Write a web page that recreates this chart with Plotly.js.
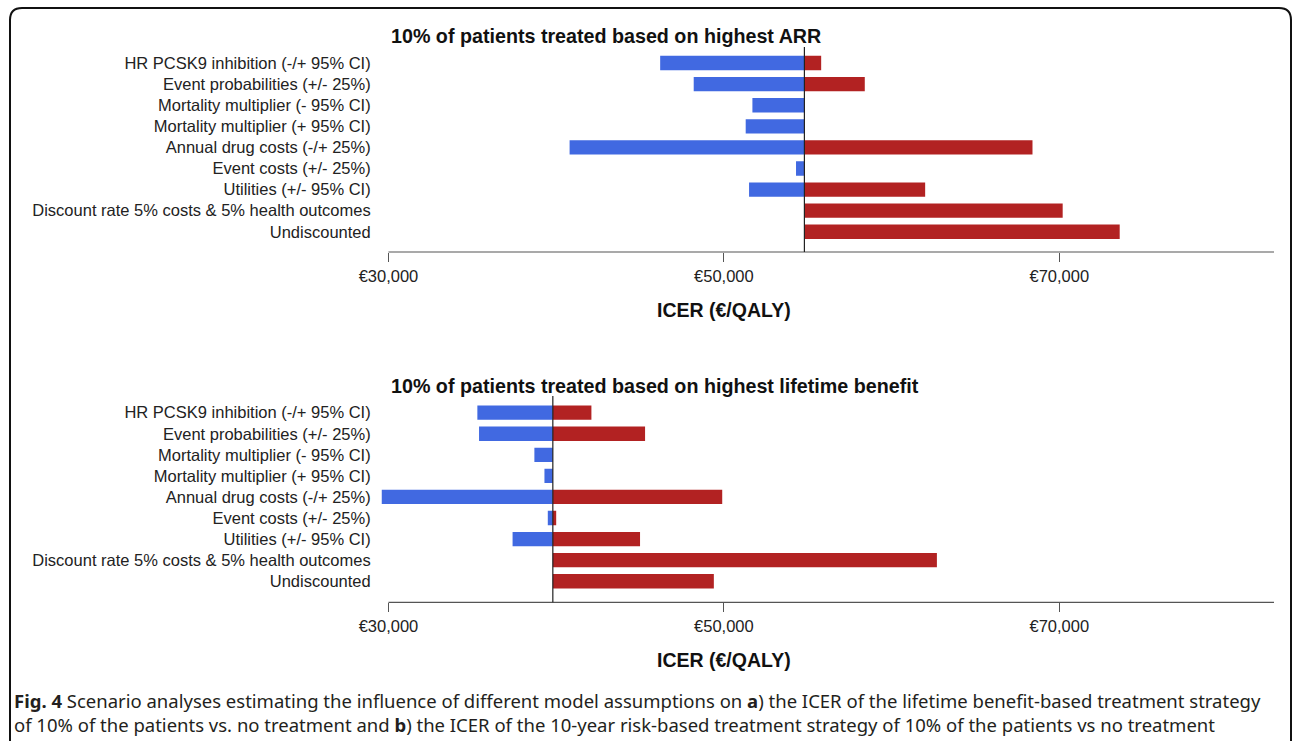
<!DOCTYPE html>
<html>
<head>
<meta charset="utf-8">
<script src="https://cdn.plot.ly/plotly-3.0.1.min.js"></script>
<style>
  html, body { margin: 0; padding: 0; background: #ffffff; }
  #chart { width: 1292px; height: 741px; }
</style>
</head>
<body>
<div id="chart"></div>
<script>
// Scenario labels, shared by both tornado panels (top to bottom)
const scenarios = [
  "HR PCSK9 inhibition (-/+ 95% CI)",
  "Event probabilities (+/- 25%)",
  "Mortality multiplier (- 95% CI)",
  "Mortality multiplier (+ 95% CI)",
  "Annual drug costs (-/+ 25%)",
  "Event costs (+/- 25%)",
  "Utilities (+/- 95% CI)",
  "Discount rate 5% costs & 5% health outcomes",
  "Undiscounted"
];

// Panel a: 10% of patients treated based on highest ARR (ICER, €/QALY)
const arrBaseIcer = 54800;
const arrLowIcer  = [46200, 48200, 51700, 51300, 40800, 54300, 51500, null, null];
const arrHighIcer = [55800, 58400, null, null, 68400, null, 62000, 70200, 73600];

// Panel b: 10% of patients treated based on highest lifetime benefit (ICER, €/QALY)
const ltbBaseIcer = 39800;
const ltbLowIcer  = [35300, 35400, 38700, 39300, 29600, 39500, 37400, null, null];
const ltbHighIcer = [42100, 45300, null, null, 49900, 40000, 45000, 62700, 49400];

const panelTitles = [
  "10% of patients treated based on highest ARR",
  "10% of patients treated based on highest lifetime benefit"
];
const axisTitle = "ICER (€/QALY)";
const tickValues = [30000, 50000, 70000];
const tickLabels = ["€30,000", "€50,000", "€70,000"];

const captionLine1 = "<b>Fig. 4</b> Scenario analyses estimating the influence of different model assumptions on <b>a</b>) the ICER of the lifetime benefit-based treatment strategy";
const captionLine2 = "of 10% of the patients vs. no treatment and <b>b</b>) the ICER of the 10-year risk-based treatment strategy of 10% of the patients vs no treatment";

// ---- page geometry (pixels) ----
const W = 1292, H = 741;
const px = v => v / W;          // x pixel -> paper
const py = v => 1 - v / H;      // y pixel -> paper

const BLUE = "#4169e1", RED = "#b22222";
const SANS = "Arial, 'Liberation Sans', Helvetica, sans-serif";
const CAPTION = "'Noto Sans', 'Open Sans', sans-serif";
const xMin = 29000, xMax = 82800, axisStart = 30000;
const plotLeft = 371.7, plotRight = 1274;

function tornado(base, lows, highs, xa, ya) {
  return [
    {
      type: "bar", orientation: "h", y: scenarios, base: base,
      x: lows.map(v => v == null ? null : v - base),
      marker: { color: BLUE }, width: 0.68, xaxis: xa, yaxis: ya,
      hoverinfo: "skip", showlegend: false
    },
    {
      type: "bar", orientation: "h", y: scenarios, base: base,
      x: highs.map(v => v == null ? null : v - base),
      marker: { color: RED }, width: 0.68, xaxis: xa, yaxis: ya,
      hoverinfo: "skip", showlegend: false
    }
  ];
}

const data = [].concat(
  tornado(arrBaseIcer, arrLowIcer, arrHighIcer, "x", "y"),
  tornado(ltbBaseIcer, ltbLowIcer, ltbHighIcer, "x2", "y2")
);

function xAxis(anchor) {
  return {
    domain: [px(plotLeft), px(plotRight)], range: [xMin, xMax], anchor: anchor,
    tickvals: tickValues, ticktext: tickLabels,
    ticks: "outside", ticklen: 9, tickwidth: 1, tickcolor: "#555",
    showgrid: false, zeroline: false, showline: false, fixedrange: true,
    tickfont: { family: SANS, size: 16.5, color: "#222" }
  };
}
function yAxis(anchor, top, bottom, rTop, rBottom) {
  return {
    domain: [py(bottom), py(top)], anchor: anchor, type: "category",
    range: [rBottom, rTop], ticks: "", showgrid: false, zeroline: false,
    showline: false, fixedrange: true,
    tickfont: { family: SANS, size: 16.5, color: "#222" }
  };
}

const shapes = [
  // axis baselines starting at the €30,000 tick
  { type: "line", xref: "x", yref: "y domain", x0: axisStart, x1: xMax, y0: 0, y1: 0,
    line: { color: "#555", width: 1.2 } },
  { type: "line", xref: "x2", yref: "y2 domain", x0: axisStart, x1: xMax, y0: 0, y1: 0,
    line: { color: "#555", width: 1.2 } },
  // base-case reference lines
  { type: "line", xref: "x", yref: "y domain", x0: arrBaseIcer, x1: arrBaseIcer, y0: 0, y1: 1,
    line: { color: "#222", width: 1.2 }, layer: "above" },
  { type: "line", xref: "x2", yref: "y2 domain", x0: ltbBaseIcer, x1: ltbBaseIcer, y0: 0, y1: 1,
    line: { color: "#222", width: 1.2 }, layer: "above" },
  // figure frame with rounded top corners
  { type: "path", xref: "paper", yref: "paper",
    path: `M ${px(10)},${py(760)} L ${px(10)},${py(20)} Q ${px(10)},${py(8)} ${px(22)},${py(8)} ` +
          `L ${px(1279)},${py(8)} Q ${px(1291)},${py(8)} ${px(1291)},${py(20)} L ${px(1291)},${py(760)}`,
    line: { color: "#111", width: 2 } }
];

const annotations = [
  { text: "<b>" + panelTitles[0] + "</b>", xref: "paper", yref: "paper",
    x: px(389), y: py(36), xanchor: "left", yanchor: "middle", showarrow: false,
    font: { family: SANS, size: 19.7, color: "#111" } },
  { text: "<b>" + panelTitles[1] + "</b>", xref: "paper", yref: "paper",
    x: px(389), y: py(386), xanchor: "left", yanchor: "middle", showarrow: false,
    font: { family: SANS, size: 19.7, color: "#111" } },
  { text: "<b>" + axisTitle + "</b>", xref: "paper", yref: "paper",
    x: px(724), y: py(310), xanchor: "center", yanchor: "middle", showarrow: false,
    font: { family: SANS, size: 19.5, color: "#111" } },
  { text: "<b>" + axisTitle + "</b>", xref: "paper", yref: "paper",
    x: px(724), y: py(660), xanchor: "center", yanchor: "middle", showarrow: false,
    font: { family: SANS, size: 19.5, color: "#111" } },
  { text: captionLine1, xref: "paper", yref: "paper",
    x: px(12), y: py(700), xanchor: "left", yanchor: "middle", showarrow: false,
    font: { family: CAPTION, size: 18.5, color: "#231f20" } },
  { text: captionLine2, xref: "paper", yref: "paper",
    x: px(12), y: py(724), xanchor: "left", yanchor: "middle", showarrow: false,
    font: { family: CAPTION, size: 18.5, color: "#231f20" } }
];

const layout = {
  width: W, height: H,
  margin: { l: 0, r: 0, t: 0, b: 0, pad: 0 },
  paper_bgcolor: "#ffffff", plot_bgcolor: "rgba(0,0,0,0)",
  barmode: "overlay", bargap: 0.32,
  showlegend: false,
  font: { family: SANS },
  xaxis: xAxis("y"),
  yaxis: yAxis("x", 47, 252, -0.76, 8.96),
  xaxis2: xAxis("y2"),
  yaxis2: yAxis("x2", 396, 602.3, -0.79, 9.0),
  shapes: shapes,
  annotations: annotations
};

Plotly.newPlot("chart", data, layout, { staticPlot: true, displayModeBar: false });
</script>
</body>
</html>
